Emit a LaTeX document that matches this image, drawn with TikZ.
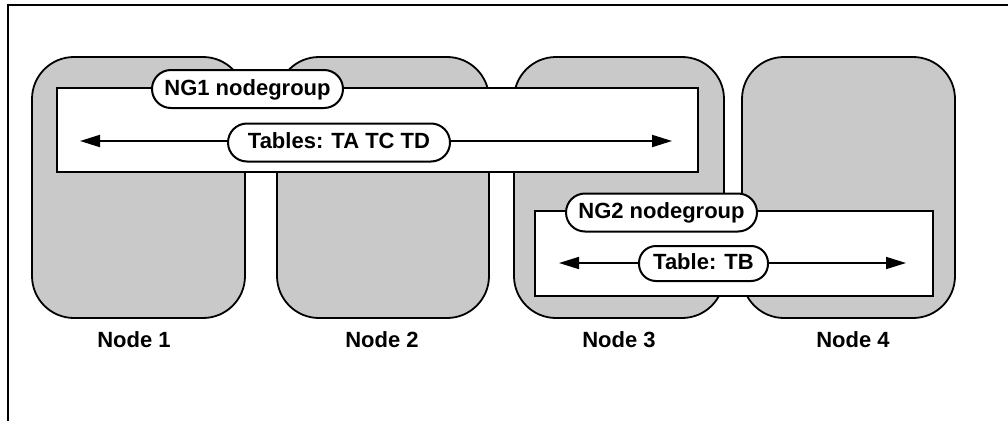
\documentclass[tikz,border=0pt]{standalone}
\usepackage{fontspec}
\setmainfont{Liberation Sans}
\usetikzlibrary{arrows.meta}
\tikzset{
  nodebox/.style={draw, line width=1.8pt, fill=black!21, rounded corners=42pt,
    minimum height=261pt, inner sep=0pt},
  grouprect/.style={draw, line width=2.6pt, fill=white, inner sep=0pt},
  pill/.style={draw, line width=2pt, fill=white, inner sep=0pt,
    text height=16pt, text depth=4pt, font=\fontsize{22}{25}\selectfont\bfseries},
  nodelabel/.style={font=\fontsize{22}{25}\selectfont\bfseries, inner sep=0pt},
  tablearrow/.style={line width=2pt, {Triangle[length=20pt,width=12pt]}-{Triangle[length=20pt,width=12pt]}},
}
\begin{document}
\begin{tikzpicture}[x=1pt,y=-1pt]
\useasboundingbox (0,0) rectangle (1008,420);
% frame (top and left edges visible)
\coordinate (fTR) at (1010,5);
\coordinate (fTL) at (8,5);
\coordinate (fBL) at (8,422);
\draw[line width=1.5pt] (fTR) -- (fTL) -- (fBL);
% computer nodes
\node[nodebox, minimum width=213pt] (n1) at (138.5,187.5) {};
\node[nodebox, minimum width=212pt] (n2) at (383,187.5) {};
\node[nodebox, minimum width=210pt] (n3) at (619,187.5) {};
\node[nodebox, minimum width=213pt] (n4) at (848.5,187.5) {};
\node[nodelabel] (l1) at (134,340) {Node 1};
\node[nodelabel] (l2) at (382,340) {Node 2};
\node[nodelabel] (l3) at (619,340) {Node 3};
\node[nodelabel] (l4) at (853,340) {Node 4};
% NG1 nodegroup
\node[grouprect, minimum width=641pt, minimum height=84pt] (ng1) at (377.5,130) {};
\coordinate (a1L) at (80,141);
\coordinate (a1R) at (672,141);
\draw[tablearrow] (a1L) -- (a1R);
\node[pill, rounded corners=19pt, minimum width=191pt, minimum height=38pt] (ng1lab) at (247.5,89) {NG1 nodegroup};
\node[pill, rounded corners=19pt, minimum width=222pt, minimum height=38pt] (t1) at (339,142.5) {Tables: TA TC TD};
% NG2 nodegroup
\node[grouprect, minimum width=398pt, minimum height=85pt] (ng2) at (734,253.5) {};
\coordinate (a2L) at (559,263);
\coordinate (a2R) at (906,263);
\draw[tablearrow, line width=1.7pt] (a2L) -- (a2R);
\node[pill, rounded corners=19pt, minimum width=191pt, minimum height=38pt] (ng2lab) at (661.5,212.5) {NG2 nodegroup};
\node[pill, rounded corners=17pt, minimum width=129pt, minimum height=35pt] (t2) at (703.5,263.5) {Table: TB};
\end{tikzpicture}
\end{document}
